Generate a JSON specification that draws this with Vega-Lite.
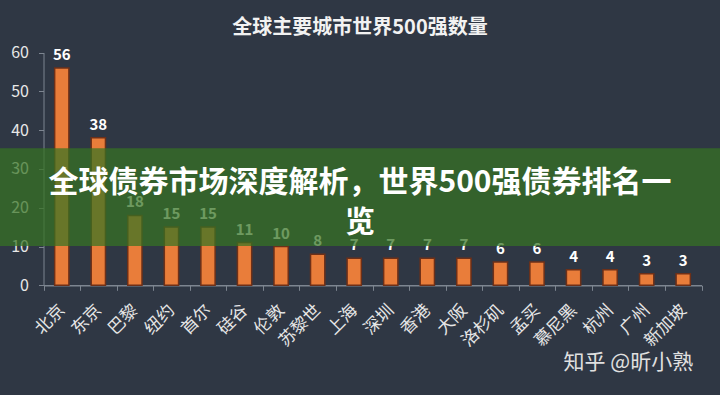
{
  "$schema": "https://vega.github.io/schema/vega-lite/v6.json",
  "width": 720,
  "height": 395,
  "autosize": {"type": "none"},
  "padding": 0,
  "background": "#2f3744",
  "config": {"view": {"stroke": null}, "font": "Noto Sans CJK SC"},
  "data": {
    "values": [
      {"city": "北京", "count": 56},
      {"city": "东京", "count": 38},
      {"city": "巴黎", "count": 18},
      {"city": "纽约", "count": 15},
      {"city": "首尔", "count": 15},
      {"city": "硅谷", "count": 11},
      {"city": "伦敦", "count": 10},
      {"city": "苏黎世", "count": 8},
      {"city": "上海", "count": 7},
      {"city": "深圳", "count": 7},
      {"city": "香港", "count": 7},
      {"city": "大阪", "count": 7},
      {"city": "洛杉矶", "count": 6},
      {"city": "孟买", "count": 6},
      {"city": "慕尼黑", "count": 4},
      {"city": "杭州", "count": 4},
      {"city": "广州", "count": 3},
      {"city": "新加坡", "count": 3}
    ]
  },
  "layer": [
    {
      "mark": {"type": "bar", "color": "#e97d3a", "stroke": "#6e3018", "strokeWidth": 1.5, "width": {"band": 0.39}},
      "encoding": {
        "x": {
          "field": "city", "type": "nominal", "sort": null,
          "scale": {"range": [43.5, 701.5], "paddingInner": 0, "paddingOuter": 0},
          "axis": {
            "orient": "bottom", "offset": -109.7, "title": null,
            "labelAngle": -45, "labelAlign": "right", "labelBaseline": "middle",
            "labelFontSize": 17, "labelColor": "#e6e6e6", "labelPadding": 17,
            "labelOverlap": false, "tickBand": "extent", "tickSize": 5,
            "domainColor": "#7d8590", "tickColor": "#7d8590", "domainWidth": 1.5
          }
        },
        "y": {
          "field": "count", "type": "quantitative",
          "scale": {"domain": [0, 60], "range": [285.3, 52.5], "nice": false, "zero": false},
          "axis": {
            "values": [0, 10, 20, 30, 40, 50, 60], "offset": -43.5, "title": null,
            "grid": false, "labelFontSize": 16, "labelColor": "#e8e8e8", "labelPadding": 10,
            "tickSize": 5, "domainColor": "#7d8590", "tickColor": "#7d8590"
          }
        }
      }
    },
    {
      "mark": {"type": "text", "dy": -8, "baseline": "alphabetic", "fontSize": 15, "fontWeight": "bold", "color": "#ffffff"},
      "encoding": {
        "x": {"field": "city", "type": "nominal", "sort": null},
        "y": {"field": "count", "type": "quantitative"},
        "text": {"field": "count", "type": "quantitative"}
      }
    },
    {
      "data": {"values": [{}]},
      "mark": {"type": "rect", "color": "#367322", "opacity": 0.72},
      "encoding": {"y": {"datum": 35.3}, "y2": {"datum": 10.13}}
    },
    {
      "data": {"values": [{}]},
      "mark": {"type": "text", "text": ["全球债券市场深度解析，世界500强债券排名一", "览"], "fontSize": 30, "fontWeight": "bold", "color": "#ffffff", "align": "center", "baseline": "middle", "lineHeight": 40},
      "encoding": {"y": {"datum": 26.3}}
    },
    {
      "data": {"values": [{}]},
      "mark": {"type": "text", "text": "全球主要城市世界500强数量", "fontSize": 20, "fontWeight": "bold", "color": "#f2f2f2", "align": "center", "baseline": "middle"},
      "encoding": {"y": {"datum": 66.3}}
    },
    {
      "data": {"values": [{}]},
      "mark": {"type": "text", "text": "知乎 @昕小熟", "fontSize": 21, "color": "#e0e0e0", "align": "center", "baseline": "middle"},
      "encoding": {"x": {"datum": "广州", "bandPosition": 0}, "y": {"datum": -20}}
    }
  ]
}
